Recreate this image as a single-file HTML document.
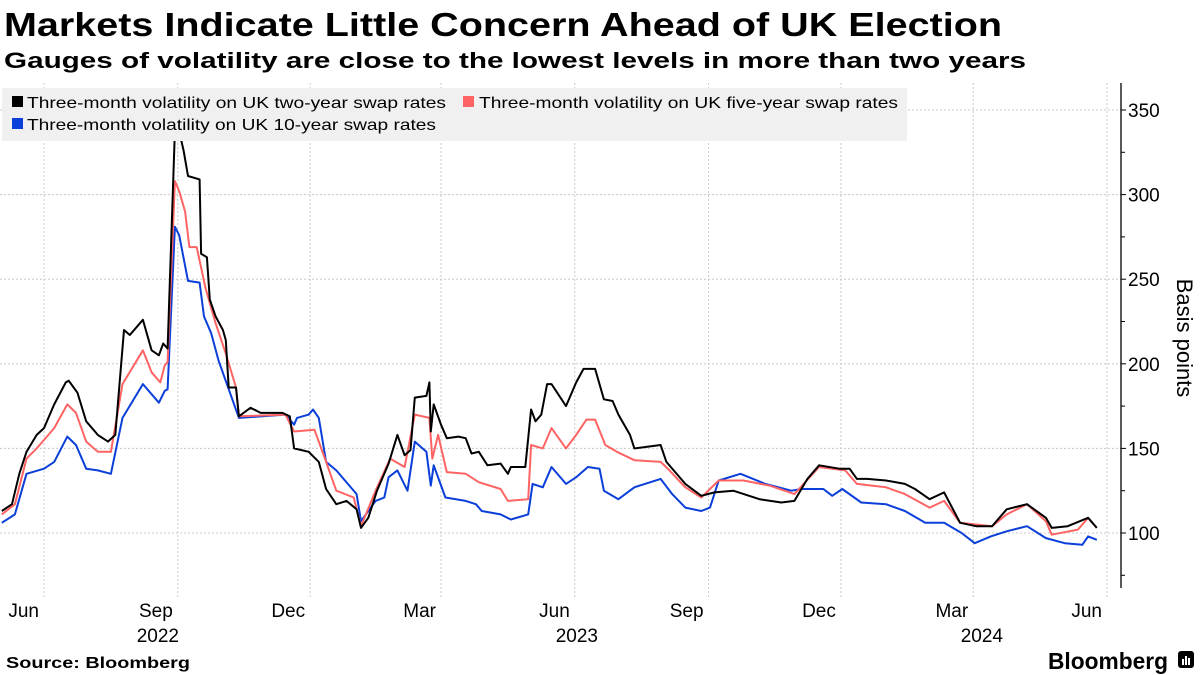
<!DOCTYPE html>
<html><head><meta charset="utf-8"><style>
html,body{margin:0;padding:0;background:#fff;width:1200px;height:675px;overflow:hidden}
svg{display:block;font-family:"Liberation Sans","DejaVu Sans",sans-serif}
</style></head><body>
<svg id="chart" width="1200" height="675" viewBox="0 0 1200 675">
<text x="4" y="36" font-size="33" font-weight="bold" fill="#000" textLength="998" lengthAdjust="spacingAndGlyphs">Markets Indicate Little Concern Ahead of UK Election</text>
<text x="4" y="68" font-size="22" font-weight="bold" fill="#000" textLength="1022" lengthAdjust="spacingAndGlyphs">Gauges of volatility are close to the lowest levels in more than two years</text>
<g id="grid"></g>
<g id="series"></g>
<g id="axes"></g>
<g>
<rect x="2" y="88" width="905" height="53" fill="#f0f0f0"/>
<g><rect x="12" y="96" width="11" height="11" fill="#000"/><text x="27" y="108" font-size="16" textLength="419" lengthAdjust="spacingAndGlyphs">Three-month volatility on UK two-year swap rates</text></g>
<g><rect x="463" y="96" width="11" height="11" fill="#ff6464"/><text x="479" y="108" font-size="16" textLength="419" lengthAdjust="spacingAndGlyphs">Three-month volatility on UK five-year swap rates</text></g>
<g><rect x="12" y="118" width="11" height="11" fill="#0b3fd9"/><text x="27" y="130" font-size="16" textLength="409" lengthAdjust="spacingAndGlyphs">Three-month volatility on UK 10-year swap rates</text></g>
</g>
<text x="0" y="0" font-size="22" transform="translate(1177,338) rotate(90)" text-anchor="middle">Basis points</text>
<text x="6" y="668" font-size="16" font-weight="bold" textLength="184" lengthAdjust="spacingAndGlyphs">Source: Bloomberg</text>
<text x="1168" y="669" font-size="23" font-weight="bold" text-anchor="end" textLength="120" lengthAdjust="spacingAndGlyphs">Bloomberg</text>
<g><rect x="1178" y="651" width="16" height="17" rx="3" fill="#000"/><rect x="1182" y="659" width="2" height="6" fill="#fff"/><rect x="1185" y="656" width="2" height="9" fill="#fff"/><rect x="1188" y="658" width="2" height="7" fill="#fff"/></g>
</svg>
<script>
// days since 2022-05-01
const twoYearDays = [2,9,14,19,26,31,38,46,48,54,60,68,75,80,86,90,99,105,110,113,116,121,122,127,130,138,139,143,145,149,154,156,158,163,165,173,180,188,195,200,203,213,220,225,232,239,246,249,254,260,268,274,279,283,286,294,296,297,299,304,308,316,321,325,330,336,345,350,352,362,366,369,373,377,380,390,397,402,410,416,422,426,434,437,455,459,472,483,492,505,523,538,547,556,564,578,585,590,597,610,623,630,640,650,661,672,683,693,707,720,724,735,749,755];
const twoYearValues = [113,117,135,148,158,162,176,189,190,183,166,158,154,158,220,217,226,208,205,212,209,338,345,326,311,309,265,263,238,228,220,214,186,186,169,174,171,171,171,169,150,148,142,126,117,119,114,103,109,125,141,158,146,149,180,181,189,160,176,164,156,157,156,147,148,140,141,135,139,139,173,166,170,188,188,175,189,197,197,179,178,170,158,150,152,142,129,122,124,125,120,118,119,132,140,138,138,132,132,131,129,126,120,124,106,104,104,114,117,109,103,104,109,103];
const fiveYearDays = [2,11,19,26,38,47,53,60,68,77,85,99,105,111,114,116,121,124,128,131,136,142,149,156,163,165,197,203,217,225,232,244,249,259,269,279,286,296,298,302,308,321,330,345,350,364,366,374,380,390,397,404,410,417,425,437,455,460,472,483,495,512,530,547,564,582,590,610,623,640,650,661,683,693,707,720,724,742,749,755];
const fiveYearValues = [111,117,144,150,162,176,171,154,148,148,188,208,195,189,199,201,308,302,290,269,269,245,224,206,186,169,170,160,161,142,125,121,104,125,144,139,170,168,144,158,136,135,130,126,119,120,152,150,162,150,158,167,167,152,148,143,142,138,127,121,131,131,128,123,139,137,129,127,123,115,119,106,104,111,117,107,99,102,109,103];
const tenYearDays = [2,11,19,31,38,47,53,60,68,77,85,99,110,114,116,121,124,130,138,141,146,151,158,165,197,203,205,213,216,220,225,232,246,249,259,265,268,274,281,286,294,297,299,307,321,328,332,345,352,364,367,374,380,390,397,405,413,416,426,437,455,463,472,483,489,495,510,527,545,552,567,573,580,593,610,623,637,650,662,671,682,693,707,720,733,745,749,755];
const tenYearValues = [106,111,135,138,142,157,152,138,137,135,168,188,177,184,185,281,276,249,248,228,218,202,185,168,170,164,168,170,173,168,142,137,123,107,119,121,133,137,125,154,148,128,140,121,119,117,113,111,108,111,129,127,139,129,133,139,138,125,120,127,132,123,115,113,115,131,135,129,125,126,126,122,126,118,117,113,106,106,100,94,98,101,104,97,94,93,98,96];
const yTicks = [100,150,200,250,300,350];
const xTickDays = [31,123,214,304,396,488,579,670,762];
const xTickLabels = ['Jun','Sep','Dec','Mar','Jun','Sep','Dec','Mar','Jun'];
const yearLabels = ['2022','2023','2024'];
const yearLabelDays = [123,426,712];

const NS='http://www.w3.org/2000/svg';
function xScale(d){return 44 + (d-31)*(1107-44)/(762-31);}
function yScale(v){return 533 - (v-100)*1.692;}
function mk(tag,attrs,parent){const e=document.createElementNS(NS,tag);for(const k in attrs)e.setAttribute(k,attrs[k]);parent.appendChild(e);return e;}
const grid=document.getElementById('grid'), axes=document.getElementById('axes'), series=document.getElementById('series');
yTicks.forEach(v=>{
  const y=yScale(v);
  const g=mk('line',{x1:0,x2:1121,y1:y,y2:y,stroke:'#c8c8c8','stroke-dasharray':'2,2','stroke-width':1},grid);
  
  
  const t=mk('text',{x:1128,y:y+7,'font-size':19,fill:'#000'},axes);
  t.textContent=v;
  
  
  const tk=mk('line',{x1:1121,x2:1126,y1:y,y2:y,stroke:'#000','stroke-width':1},axes);
  
  
});
[75,125,175,225,275,325].forEach(v=>{
  const y=yScale(v);
  const tk=mk('line',{x1:1121,x2:1125,y1:y,y2:y,stroke:'#000','stroke-width':1},axes);
  
  
});
const ax=mk('line',{x1:1121,x2:1121,y1:83,y2:588,stroke:'#000','stroke-width':1.3},axes);


xTickDays.forEach((d,i)=>{
  const x=xScale(d);
  const g=mk('line',{x1:x,x2:x,y1:83,y2:598,stroke:'#c8c8c8','stroke-dasharray':'2,2','stroke-width':1},grid);
  
  
  const t=mk('text',{x:x-5,y:617,'font-size':19,'text-anchor':'end',fill:'#000'},axes);
  t.textContent=xTickLabels[i];
  
  
});
const yearEnds=[179,598,1003];
yearLabels.forEach((lab,i)=>{
  const t=mk('text',{x:yearEnds[i] + (xScale(yearLabelDays[i]) - xScale(yearLabelDays[i])),y:642,'font-size':19,'text-anchor':'end',fill:'#000'},axes);
  t.textContent=lab;
  
  
});
function drawLine(days,vals,color,name){
  let d='';
  days.forEach((dd,i)=>{d+=(i?'L':'M')+xScale(dd).toFixed(1)+','+yScale(vals[i]).toFixed(1);});
  const p=mk('path',{d:d,fill:'none',stroke:color,'stroke-width':2,'stroke-linejoin':'round'},series);
  
  
}
drawLine(tenYearDays,tenYearValues,'#0b3fd9','line-ten-year');
drawLine(fiveYearDays,fiveYearValues,'#ff6464','line-five-year');
drawLine(twoYearDays,twoYearValues,'#000000','line-two-year');
</script>
</body></html>
